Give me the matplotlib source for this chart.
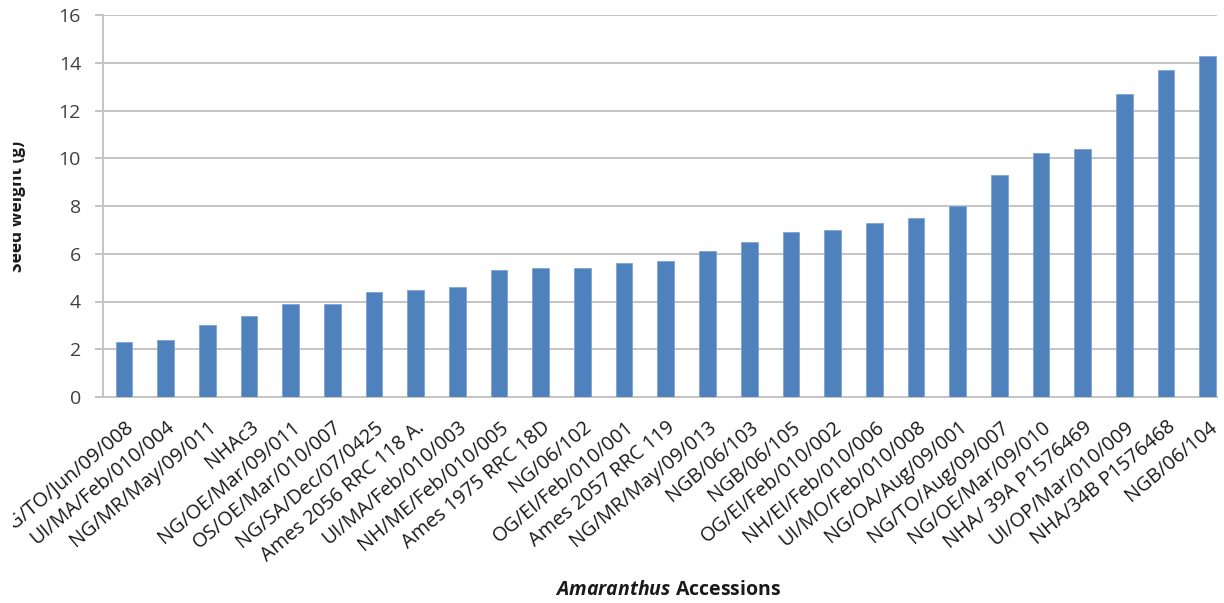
import matplotlib
matplotlib.use("Agg")
import matplotlib.pyplot as plt
import matplotlib.transforms as mtransforms

plt.rcParams['font.family'] = ['Open Sans', 'DejaVu Sans']
plt.rcParams['mathtext.fontset'] = 'custom'
plt.rcParams['mathtext.it'] = 'Open Sans:italic:bold'
plt.rcParams['mathtext.rm'] = 'Open Sans:bold'

accessions = [
    "NG/TO/Jun/09/008", "UI/MA/Feb/010/004", "NG/MR/May/09/011", "NHAc3",
    "NG/OE/Mar/09/011", "OS/OE/Mar/010/007", "NG/SA/Dec/07/0425",
    "Ames 2056 RRC 118 A.", "UI/MA/Feb/010/003", "NH/ME/Feb/010/005",
    "Ames 1975 RRC 18D", "NG/06/102", "OG/EI/Feb/010/001", "Ames 2057 RRC 119",
    "NG/MR/May/09/013", "NGB/06/103", "NGB/06/105", "OG/EI/Feb/010/002",
    "NH/EI/Feb/010/006", "UI/MO/Feb/010/008", "NG/OA/Aug/09/001",
    "NG/TO/Aug/09/007", "NG/OE/Mar/09/010", "NHA/ 39A P1576469",
    "UI/OP/Mar/010/009", "NHA/34B P1576468", "NGB/06/104",
]
seed_weight = [
    2.3, 2.4, 3.0, 3.4, 3.9, 3.9, 4.4, 4.5, 4.6, 5.3, 5.4, 5.4, 5.6, 5.7,
    6.1, 6.5, 6.9, 7.0, 7.3, 7.5, 8.0, 9.3, 10.2, 10.4, 12.7, 13.7, 14.3,
]
y_ticks = [0, 2, 4, 6, 8, 10, 12, 14, 16]

W, H = 1224, 603
fig = plt.figure(figsize=(W / 100, H / 100), dpi=100)
ax = fig.add_axes([103 / W, (H - 397) / H, (1217 - 103) / W, (397 - 15) / H])

x = list(range(len(accessions)))
ax.bar(x, seed_weight, width=0.4, color='#4F81BD', edgecolor='#7ea3d3',
       linewidth=0.6, zorder=3)

ax.set_ylim(0, 16)
ax.set_xlim(-0.5, len(accessions) - 1 + 0.22)
ax.set_yticks(y_ticks)
ax.yaxis.grid(True, color='#c4c4c4', linewidth=1.4, zorder=0)
ax.set_axisbelow(True)

for side in ('top', 'right'):
    ax.spines[side].set_visible(False)
for side in ('left', 'bottom'):
    ax.spines[side].set_color('#c4c4c4')
    ax.spines[side].set_linewidth(1.4)

ax.tick_params(axis='y', length=5.8, width=1.4, color='#c4c4c4', pad=10,
               labelsize=14, labelcolor='#404040')
ax.tick_params(axis='x', length=0, pad=20)

ax.set_xticks(x)
ax.set_xticklabels(accessions, rotation=40, ha='right', va='center',
                   rotation_mode='anchor', fontsize=14.3, color='#1a1a1a')

# the printed page is trimmed a little on its left edge
left_trim = mtransforms.Bbox.from_extents(13, 0, W, H)
shift = mtransforms.ScaledTranslation(5 / 72, 0, fig.dpi_scale_trans)
for lbl in ax.get_xticklabels():
    lbl.set_transform(lbl.get_transform() + shift)
    lbl.set_clip_box(left_trim)
    lbl.set_clip_on(True)

ax.set_xlabel(r"$Amaranthus$ Accessions", fontsize=14, fontweight='bold',
              color='#1a1a1a')
ax.xaxis.set_label_coords((668 - 103) / (1217 - 103), -(580 - 397) / (397 - 15))

ylab = fig.text(22 / W, (H - 206) / H, "Seed weight (g)", rotation=90,
                ha='center', va='baseline', rotation_mode='anchor',
                fontsize=12.5, fontweight='bold', color='#1a1a1a')
ylab.set_clip_box(left_trim)
ylab.set_clip_on(True)

fig.savefig("out.png", dpi=100, facecolor='white')
